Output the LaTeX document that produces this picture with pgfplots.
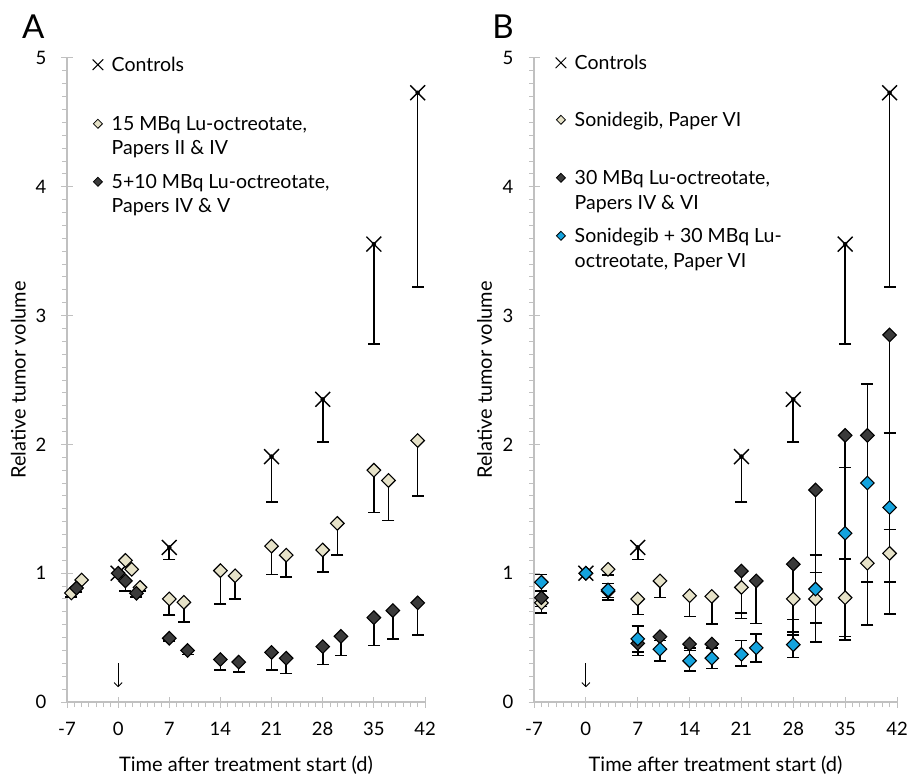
\documentclass[border=0pt]{standalone}
\usepackage{pgfplots}
\usepackage{pgfplotstable}
\pgfplotsset{compat=1.18}
\usetikzlibrary{arrows.meta}
\usepackage{fontspec}
\setmainfont{Lato}

\definecolor{lightd}{HTML}{E6E2C8}
\definecolor{darkd}{HTML}{3A3A3A}
\definecolor{blued}{HTML}{14A3DE}
\definecolor{axgray}{HTML}{C0C0C0}

\newcommand{\lrow}[1]{\rule[-7.5pt]{0pt}{#1}}

% Controls (same in both panels)
\pgfplotstableread{
x y ep em
0 1.00 0 0
7 1.20 0 0.095
21 1.905 0 0.35
28 2.35 0 0.33
35 3.555 0 0.775
41 4.73 0 1.51
}\controls

% Panel A: 15 MBq Lu-octreotate
\pgfplotstableread{
x y ep em
-6.4 0.846 0 0.03
-5 0.947 0 0
1 1.10 0 0
1.85 1.03 0 0
3 0.89 0 0.03
7 0.80 0 0.125
9 0.774 0 0.154
14 1.02 0 0.26
16 0.98 0 0.18
21 1.21 0 0.22
23 1.14 0 0.17
28 1.18 0 0.17
30 1.387 0 0.247
35 1.80 0 0.33
37 1.72 0 0.31
41 2.03 0 0.43
}\Alight

% Panel A: 5+10 MBq Lu-octreotate
\pgfplotstableread{
x y ep em
-5.7 0.885 0 0.03
0 1.00 0 0
1 0.94 0 0.076
2.5 0.844 0 0.03
7 0.495 0 0.02
9.5 0.40 0 0.03
14 0.33 0 0.08
16.5 0.31 0 0.075
21 0.385 0 0.135
23 0.34 0 0.12
28 0.43 0 0.14
30.5 0.51 0 0.15
35 0.655 0 0.215
37.6 0.71 0 0.22
41 0.77 0 0.25
}\Adark

% Panel B: Sonidegib
\pgfplotstableread{
x y ep em
-6 0.77 0 0.08
0 1.00 0 0
3 1.03 0 0.045
7 0.80 0 0.12
10 0.94 0 0.13
14 0.825 0 0.16
17 0.82 0 0.215
21 0.89 0 0.20
28 0.80 0 0.16
31 0.80 0.207 0.19
35 0.81 0.30 0.30
38 1.077 0 0
41 1.154 0.186 0.22
}\Blight

% Panel B: 30 MBq Lu-octreotate
\pgfplotstableread{
x y ep em
-6 0.81 0 0.07
0 1.00 0 0
3 0.86 0 0.07
7 0.455 0 0.095
10 0.507 0 0.03
14 0.45 0 0.03
17 0.45 0 0.03
21 1.017 0 0.37
23 0.94 0 0.33
28 1.07 0 0.55
31 1.646 0 1.18
35 2.07 0 1.59
38 2.07 0 1.47
41 2.85 0 2.167
}\Bdark

% Panel B: Sonidegib + 30 MBq Lu-octreotate
\pgfplotstableread{
x y ep em
-6 0.93 0.06 0.07
0 1.00 0 0
3 0.87 0.05 0.06
7 0.49 0.10 0.10
10 0.41 0.09 0.09
14 0.32 0.08 0.08
17 0.34 0.08 0.08
21 0.37 0.106 0.09
23 0.42 0.11 0.11
28 0.445 0.10 0.10
31 0.877 0.263 0.26
35 1.31 0.51 0.51
38 1.70 0.77 0.77
41 1.51 0.58 0.58
}\Bblue

\pgfplotsset{
  panel/.style={
    scale only axis, height=644pt,
    xmin=-7, xmax=42, ymin=0, ymax=5,
    axis lines*=left,
    axis line style={axgray, line width=1.2pt},
    xtick={-7,0,7,14,21,28,35,42},
    xticklabels={-7,0,7,14,21,28,35,42},
    ytick={0,1,2,3,4,5},
    yticklabels={0,1,2,3,4,5},
    minor x tick num=6,
    minor y tick num=9,
    tick align=outside,
    major tick length=11pt,
    minor tick length=5pt,
    tick style={axgray, line width=1pt},
    every major y tick/.append style={xshift=5.5pt},
    every major x tick/.append style={yshift=5.5pt},
    tick label style={font=\fontsize{18.5}{20}\selectfont, black},
    xticklabel style={yshift=-6pt},
    yticklabel style={xshift=-6pt},
    xlabel={Time after treatment start (d)},
    ylabel={Relative tumor volume},
    every axis x label/.style={at={(axis description cs:0.5,-0.098)}, anchor=center, font=\fontsize{20}{24}\selectfont},
    every axis y label/.style={at={(axis description cs:-0.136,0.5)}, rotate=90, anchor=center, font=\fontsize{20}{24}\selectfont},
    clip=false,
    legend image code/.code={\path[##1] plot coordinates {(0pt,6.5pt)};},
    legend style={draw=none, fill=none, anchor=north west, inner sep=0pt,
      row sep=0pt, column sep=6.5pt, font=\fontsize{19.5}{25}\selectfont,
      cells={anchor=base west, inner xsep=0pt, inner ysep=0pt}},
  },
  ebars/.style={forget plot, only marks, mark=none,
    error bars/.cd, y dir=#1, y explicit,
    error bar style={black, line width=1.6pt},
    error mark options={rotate=90, black, mark size=6pt, line width=1.6pt}},
  dmark/.style={forget plot, only marks, mark=square*, mark size=4.8pt,
    mark options={rotate=45, fill=#1, draw=black, line width=1.1pt}},
  xmk/.style={forget plot, only marks, mark=x, mark size=10.5pt,
    mark options={black, line width=1.4pt}},
  lx/.style={mark=x, mark size=7.5pt, mark options={black, line width=1pt}},
  ld/.style={mark=square*, mark size=3.2pt, mark options={rotate=45, fill=#1, draw=black, line width=0.8pt}},
}

\begin{document}
\begin{tikzpicture}[x=1pt,y=1pt]
\useasboundingbox (0,0) rectangle (910,777);

% ---------------- Panel A ----------------
\begin{axis}[panel, width=358pt, at={(67pt,75pt)}, anchor=south west,
  legend style={at={(rel axis cs:0.071,1.010)}}]
\addlegendimage{lx}
\addlegendentry{\lrow{25pt}Controls}
\addlegendimage{ld=lightd}
\addlegendentry{\lrow{61pt}15 MBq Lu-octreotate,}
\addlegendimage{empty legend}
\addlegendentry{\lrow{26pt}Papers II \& IV}
\addlegendimage{ld=darkd}
\addlegendentry{\lrow{36pt}5+10 MBq Lu-octreotate,}
\addlegendimage{empty legend}
\addlegendentry{\lrow{26pt}Papers IV \& V}

\addplot[ebars=minus] table[x=x,y=y,y error plus=ep,y error minus=em]{\controls};
\addplot[ebars=minus] table[x=x,y=y,y error plus=ep,y error minus=em]{\Alight};
\addplot[ebars=minus] table[x=x,y=y,y error plus=ep,y error minus=em]{\Adark};
\addplot[xmk] table[x=x,y=y]{\controls};
\addplot[dmark=lightd] table[x=x,y=y]{\Alight};
\addplot[dmark=darkd] table[x=x,y=y]{\Adark};

\node[font=\fontsize{33}{36}\selectfont] at (rel axis cs:-0.094,1.048) {A};
\draw[-{Straight Barb[length=4pt,width=8pt]}, line width=0.9pt] (axis cs:0,0.30) -- (axis cs:0,0.115);
\end{axis}

% ---------------- Panel B ----------------
\begin{axis}[panel, width=363pt, at={(534pt,75pt)}, anchor=south west,
  legend style={at={(rel axis cs:0.059,1.013)}}]
\addlegendimage{lx}
\addlegendentry{\lrow{25pt}Controls}
\addlegendimage{ld=lightd}
\addlegendentry{\lrow{59pt}Sonidegib, Paper VI}
\addlegendimage{ld=darkd}
\addlegendentry{\lrow{60pt}30 MBq Lu-octreotate,}
\addlegendimage{empty legend}
\addlegendentry{\lrow{27pt}Papers IV \& VI}
\addlegendimage{ld=blued}
\addlegendentry{\lrow{35pt}Sonidegib + 30 MBq Lu-}
\addlegendimage{empty legend}
\addlegendentry{\lrow{27pt}octreotate, Paper VI}

\addplot[ebars=minus] table[x=x,y=y,y error plus=ep,y error minus=em]{\controls};
\addplot[ebars=both] table[x=x,y=y,y error plus=ep,y error minus=em]{\Blight};
\addplot[ebars=minus] table[x=x,y=y,y error plus=ep,y error minus=em]{\Bdark};
\addplot[ebars=both] table[x=x,y=y,y error plus=ep,y error minus=em]{\Bblue};
\addplot[xmk] table[x=x,y=y]{\controls};
\addplot[dmark=lightd] table[x=x,y=y]{\Blight};
\addplot[dmark=darkd] table[x=x,y=y]{\Bdark};
\addplot[dmark=blued] table[x=x,y=y]{\Bblue};

\node[font=\fontsize{33}{36}\selectfont] at (rel axis cs:-0.085,1.048) {B};
\draw[-{Straight Barb[length=4pt,width=8pt]}, line width=0.9pt] (axis cs:0,0.30) -- (axis cs:0,0.115);
\end{axis}
\end{tikzpicture}
\end{document}
